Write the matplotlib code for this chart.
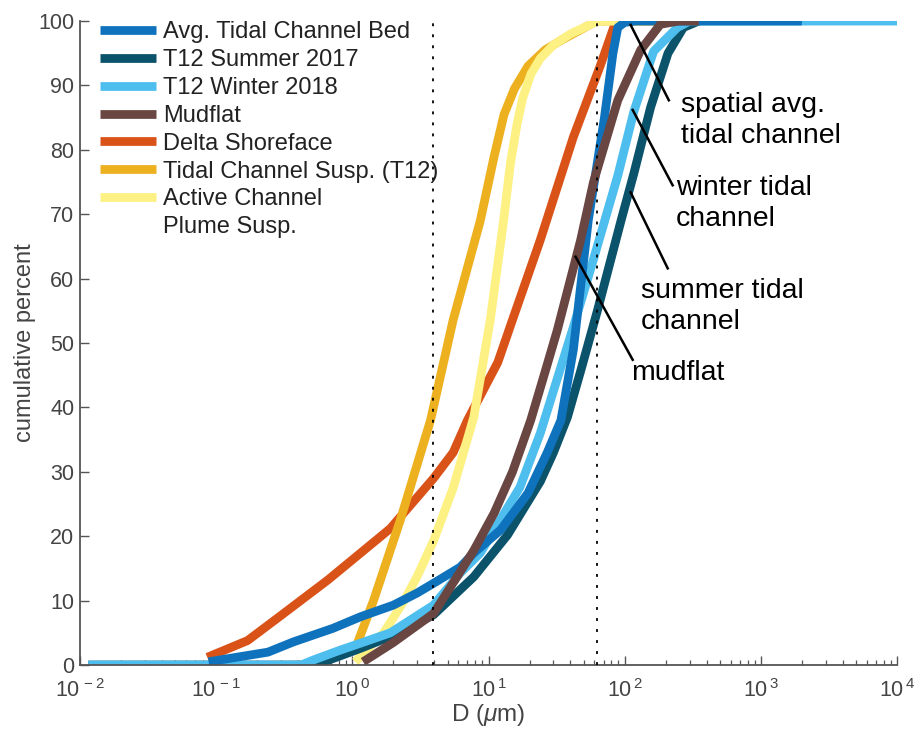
import matplotlib
matplotlib.use("Agg")
import matplotlib.pyplot as plt
from matplotlib.lines import Line2D
import numpy as np

plt.rcParams['font.family'] = ['Liberation Sans', 'DejaVu Sans']
plt.rcParams['mathtext.fontset'] = 'custom'
plt.rcParams['mathtext.rm'] = 'Liberation Sans'
plt.rcParams['mathtext.it'] = 'Liberation Sans:italic'

# grain size (um) vs cumulative percent
avg_x = [0.088, 0.24, 0.37, 0.72, 1.15, 2.0, 3.0, 3.95, 6.2, 7.8, 12.3, 19.5, 27, 34, 42, 54, 71, 82, 89, 100, 120, 2000]
avg_y = [0.5, 2.0, 3.6, 5.7, 7.5, 9.3, 11.2, 12.7, 15.2, 17.4, 21, 26.7, 33, 38, 49, 69, 85, 95, 99, 99.8, 100, 100]

summer_x = [0.0115, 0.45, 0.6, 0.81, 1.15, 2.0, 3.95, 7.8, 13.8, 24, 30, 38, 48, 63, 94, 117, 155, 208, 270, 350]
summer_y = [0, 0, 0.4, 1.4, 2.6, 4.6, 7.8, 13.7, 20.2, 28.5, 33, 38.5, 46, 55, 69, 76.4, 86.6, 95, 99, 100]

winter_x = [0.0115, 0.42, 0.52, 0.81, 1.15, 1.9, 3.95, 6.2, 8.7, 17, 24, 42, 59, 89, 117, 163, 244, 300, 10000]
winter_y = [0, 0, 0.8, 2.3, 3.4, 5.0, 9.3, 14.3, 17.4, 27.6, 36, 52.5, 63, 76, 86, 95.3, 99, 100, 100]

mud_x = [1.2, 2.0, 3.95, 7.8, 11, 15, 20.4, 26, 32, 47.5, 59, 89, 131, 183, 250, 350]
mud_y = [0.5, 3.5, 8, 17.8, 23.6, 30, 38, 45.5, 52, 66, 75, 87.7, 95.5, 99.5, 100, 100]

delta_x = [0.086, 0.17, 0.295, 0.66, 1.15, 1.9, 3.95, 5.5, 7.0, 11.7, 15, 24, 42, 66, 83, 100, 200]
delta_y = [1.2, 3.8, 7.6, 13.2, 17.4, 21.2, 29, 33, 38, 47, 53.6, 66, 82, 93, 99, 100, 100]

susp_x = [1.05, 1.43, 2.25, 3.75, 5.5, 8.7, 11, 13, 15.5, 19.5, 26, 34, 48, 62, 200]
susp_y = [2.5, 10, 22.5, 38, 53.6, 69, 79, 85.5, 89.5, 93, 95.5, 97, 98.7, 100, 100]

plume_x = [1.05, 1.7, 2.4, 3.0, 3.95, 5.5, 7.8, 10.3, 12.9, 14.5, 16.2, 17.8, 20.5, 24, 30, 40, 54, 63, 200]
plume_y = [0.5, 5, 10, 13.8, 19.3, 27.5, 38.5, 53.6, 69, 78, 84, 88, 91.8, 94.2, 96.3, 98, 99.3, 100, 100]

# clay / silt / sand boundaries
bounds = [3.9, 63]

xticks = [1e-2, 1e-1, 1e0, 1e1, 1e2, 1e3, 1e4]
xticklabels = ['$10^{\\,-2}$', '$10^{\\,-1}$', '$10^{\\,0}$', '$10^{\\,1}$',
               '$10^{\\,2}$', '$10^{\\,3}$', '$10^{\\,4}$']

# callouts: (line start, line end, text pos, text)
notes = [
    ((110.6, 99.4), (211, 87.7), (258, 84.5), 'spatial avg.\ntidal channel'),
    ((114.5, 86.2), (225, 74.5), (237, 71.7), 'winter tidal\nchannel'),
    ((110.6, 73.4), (207, 61.6), (131, 55.7), 'summer tidal\nchannel'),
    ((43.6, 63.4), (114.5, 47.4), (110.6, 45.3), 'mudflat'),
]

fig = plt.figure(figsize=(9.2, 7.39), dpi=100)
ax = fig.add_axes([0.087, 0.1001, 0.888, 0.8714])

lw = 6.3
kw = dict(lw=lw, solid_capstyle='butt', solid_joinstyle='round')
h_delta, = ax.plot(delta_x, delta_y, color='#D95319', label='Delta Shoreface', **kw)
h_susp, = ax.plot(susp_x, susp_y, color='#EDB120', label='Tidal Channel Susp. (T12)', **kw)
h_plume, = ax.plot(plume_x, plume_y, color='#FCF182', label='Active Channel', **kw)
h_summer, = ax.plot(summer_x, summer_y, color='#0B526B', label='T12 Summer 2017', **kw)
h_winter, = ax.plot(winter_x, winter_y, color='#4DBEEE', label='T12 Winter 2018', **kw)
h_avg, = ax.plot(avg_x, avg_y, color='#0F72BD', label='Avg. Tidal Channel Bed', **kw)
h_mud, = ax.plot(mud_x, mud_y, color='#6A4642', label='Mudflat', **kw)

for b in bounds:
    ax.axvline(b, color='black', lw=1.3, ls=(0, (1.6, 4.5)), zorder=5)

for (x0, y0), (x1, y1), (tx, ty), txt in notes:
    ax.plot([x0, x1], [y0, y1], color='black', lw=1.8, zorder=6)
    ax.text(tx, ty, txt, fontsize=20.5, va='center', ha='left',
            linespacing=1.25, color='black', zorder=6)

ax.set_xscale('log')
ax.set_xlim(1e-2, 1e4)
ax.set_ylim(0, 100)
ax.set_xticks(xticks)
ax.set_xticklabels(xticklabels)
ax.set_yticks(np.arange(0, 101, 10))

for s in ['top', 'right']:
    ax.spines[s].set_visible(False)
for s in ['left', 'bottom']:
    ax.spines[s].set_color('#555555')
    ax.spines[s].set_linewidth(1.3)

ax.tick_params(which='major', direction='in', length=6.5, width=1, color='#555555',
               labelsize=15.5, labelcolor='#444444')
ax.tick_params(axis='y', pad=4)
ax.tick_params(axis='x', pad=10)
ax.tick_params(which='minor', direction='in', length=3.5, width=0.9, color='#555555')
ax.tick_params(axis='y', which='minor', left=False)

ax.set_xlabel('D ($\\mu$m)', fontsize=17.5, color='#444444', labelpad=0)
ax.set_ylabel('cumulative percent', fontsize=17, color='#444444', labelpad=2)

blank = Line2D([], [], color='none', label='Plume Susp.')
handles = [h_avg, h_summer, h_winter, h_mud, h_delta, h_susp, h_plume, blank]
leg = ax.legend(handles=handles, loc='upper left', bbox_to_anchor=(0.0245, 1.0),
                frameon=False, fontsize=17, handlelength=2.37, handletextpad=0.3,
                labelspacing=0.25, borderpad=0, borderaxespad=0)
for t in leg.get_texts():
    t.set_color('#222222')

fig.savefig('out.png', dpi=100)
